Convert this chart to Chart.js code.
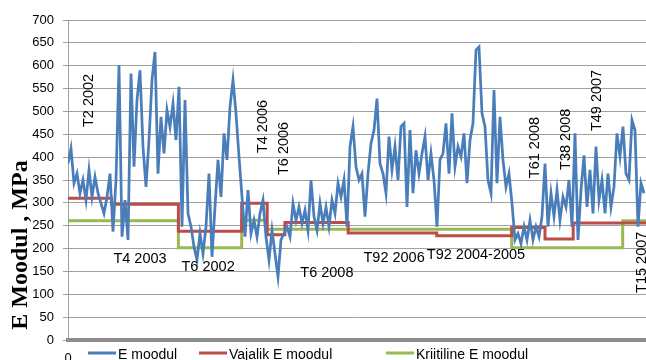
<!DOCTYPE html>
<html>
<head>
<meta charset="utf-8">
<script src="https://cdn.jsdelivr.net/npm/chart.js@4"></script>
<style>
  html, body { margin: 0; padding: 0; background: #fff; overflow: hidden; }
  #box { width: 646px; height: 360px; position: relative; }
</style>
</head>
<body>
<div id="box"><canvas id="container"></canvas></div>
<script>
// mõõtepunktid (indeks piki teed)
const eModul = [
  386, 419, 343, 364, 321, 350, 306, 372, 313, 357, 321, 299, 277, 313, 364, 237,
  350, 601, 226, 306, 219, 583, 379, 525, 590, 423, 335, 437, 569, 630, 364, 488,
  408, 503, 466, 517, 437, 554, 248, 525, 277, 248, 204, 175, 233, 189, 248, 364,
  182, 291, 394, 313, 452, 394, 510, 569, 496, 401, 313, 226, 328, 233, 262, 226,
  277, 306, 226, 175, 240, 189, 138, 219, 233, 248, 226, 299, 262, 291, 255, 284,
  240, 350, 270, 240, 299, 255, 291, 248, 306, 277, 343, 313, 350, 248, 423, 467,
  379, 350, 364, 270, 364, 430, 459, 528, 386, 364, 321, 445, 372, 423, 350, 467,
  474, 291, 459, 321, 415, 364, 408, 445, 350, 408, 350, 248, 394, 408, 474, 364,
  496, 379, 423, 401, 452, 343, 437, 474, 634, 641, 496, 467, 350, 321, 547, 343,
  488, 394, 335, 364, 299, 219, 233, 211, 248, 219, 262, 219, 248, 226, 270, 386,
  248, 321, 270, 328, 262, 313, 291, 350, 248, 452, 219, 328, 404, 291, 372, 277,
  423, 306, 350, 277, 364, 291, 335, 452, 401, 467, 364, 350, 481, 459, 248, 343,
  321
];

// nõutav moodul: lõigu algus (indeks) ja väärtus
const vajalikAlgus = [0, 14.5, 36.8, 57.9, 66.4, 72.3, 93.4, 122.9, 147.9, 159, 168.4];
const vajalikE = [310, 297, 238, 299, 230, 257, 234, 228, 246, 221, 256];

// kriitiline moodul
const kriitAlgus = [0, 36.8, 57.9, 66.2, 147.9, 184.9];
const kriitE = [261, 202, 262, 242, 202, 261];

const yTicks = [0, 50, 100, 150, 200, 250, 300, 350, 400, 450, 500, 550, 600, 650, 700];

const X_MAX = 192.67;

function stepPoints(starts, vals) {
    const pts = starts.map((s, i) => ({ x: s, y: vals[i] }));
    pts.push({ x: X_MAX, y: vals[vals.length - 1] });
    return pts;
}

// sildid lõikude kohta
const silt = [
    { t: 'T2 2002', x: 7, y: 524, r: true },
    { t: 'T4 2006', x: 64.9, y: 467, r: true },
    { t: 'T6 2006', x: 72, y: 419, r: true },
    { t: 'T61 2008', x: 155.7, y: 421, r: true },
    { t: 'T38 2008', x: 166, y: 439, r: true },
    { t: 'T49 2007', x: 176.2, y: 524, r: true },
    { t: 'T15 2007', x: 191.2, y: 170, r: true },
    { t: 'T4 2003', x: 24, y: 177 },
    { t: 'T6 2002', x: 46.7, y: 159 },
    { t: 'T6 2008', x: 86.3, y: 146 },
    { t: 'T92 2006', x: 108.7, y: 179 },
    { t: 'T92 2004-2005', x: 136, y: 185 }
];

const labelPlugin = {
    id: 'labels',
    afterDatasetsDraw(chart) {
        const c = chart.ctx;
        const xs = chart.scales.x, ys = chart.scales.y;
        c.save();
        c.fillStyle = '#000';
        c.font = '14.5px "Liberation Sans"';
        c.textAlign = 'center';
        c.textBaseline = 'middle';
        silt.forEach(s => {
            const px = xs.getPixelForValue(s.x), py = ys.getPixelForValue(s.y);
            c.save();
            c.translate(px, py);
            if (s.r) c.rotate(-Math.PI / 2);
            c.fillText(s.t, 0, 0);
            c.restore();
        });
        // telje pealkiri
        c.font = 'bold 24px "Liberation Serif"';
        c.translate(21, 245);
        c.rotate(-Math.PI / 2);
        c.fillText('E Moodul , MPa', 0, 0);
        c.restore();
    }
};

// legend allservas, nagu Excelis
const legendStart = [88, 199, 386];
const legendPlugin = {
    id: 'xlLegend',
    afterDraw(chart) {
        const c = chart.ctx;
        const y = 353;
        c.save();
        c.font = '14px "Liberation Sans"';
        c.fillStyle = '#000';
        c.textAlign = 'left';
        c.textBaseline = 'middle';
        chart.data.datasets.forEach((ds, i) => {
            const x0 = legendStart[i];
            c.strokeStyle = ds.borderColor;
            c.lineWidth = 3;
            c.beginPath();
            c.moveTo(x0, y);
            c.lineTo(x0 + 28, y);
            c.stroke();
            c.fillText(ds.label, x0 + 30, y + 2);
        });
        c.restore();
    }
};

const ctx = document.getElementById('container').getContext('2d');

new Chart(ctx, {
    type: 'line',
    data: {
        datasets: [
            {
                label: 'E moodul',
                data: eModul.map((v, i) => ({ x: i, y: v })),
                borderColor: '#4A7EBB',
                backgroundColor: '#4A7EBB',
                borderWidth: 2.75,
                pointRadius: 0,
                tension: 0
            },
            {
                label: 'Vajalik E moodul',
                data: stepPoints(vajalikAlgus, vajalikE),
                stepped: 'before',
                borderColor: '#BE4B48',
                backgroundColor: '#BE4B48',
                borderWidth: 3,
                pointRadius: 0
            },
            {
                label: 'Kriitiline E moodul',
                data: stepPoints(kriitAlgus, kriitE),
                stepped: 'before',
                borderColor: '#98B954',
                backgroundColor: '#98B954',
                borderWidth: 3,
                pointRadius: 0
            }
        ]
    },
    options: {
        responsive: true,
        maintainAspectRatio: false,
        animation: false,
        layout: { padding: { top: 20, right: 0, left: 0, bottom: 0 } },
        plugins: {
            legend: { display: false },
            tooltip: { enabled: false }
        },
        scales: {
            x: {
                type: 'linear',
                min: 0,
                max: X_MAX,
                afterBuildTicks: s => { s.ticks = [{ value: 0 }]; },
                afterFit: s => { s.height = 20; },
                grid: { display: false, drawTicks: false },
                border: { color: '#8C8C8C', width: 4 },
                ticks: {
                    color: '#000',
                    padding: 11,
                    font: { family: 'Liberation Sans', size: 13 }
                }
            },
            y: {
                min: 0,
                max: 700,
                afterBuildTicks: s => { s.ticks = yTicks.map(v => ({ value: v })); },
                afterFit: s => { s.width = 68; },
                grid: { color: '#A0A0A0', lineWidth: 1, tickLength: 5 },
                border: { color: '#A0A0A0', width: 1 },
                ticks: {
                    color: '#000',
                    padding: 9,
                    font: { family: 'Liberation Sans', size: 13 }
                }
            }
        }
    },
    plugins: [labelPlugin, legendPlugin]
});
</script>
</body>
</html>
